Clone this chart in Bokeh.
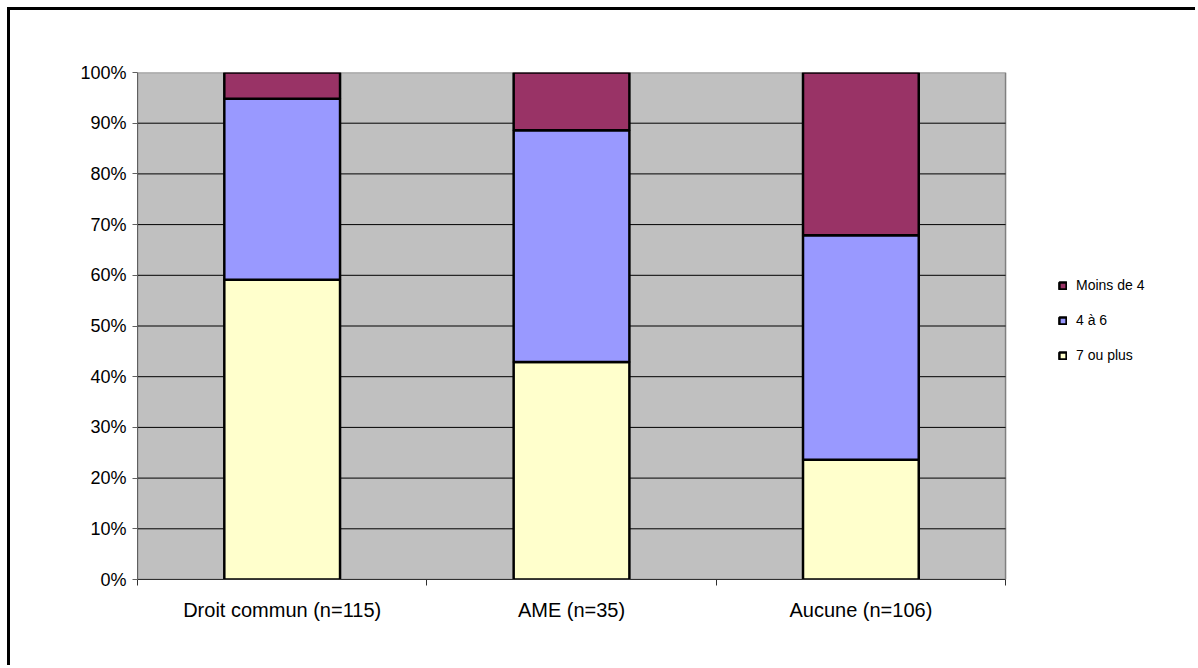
from bokeh.plotting import figure
from bokeh.models import (ColumnDataSource, FixedTicker, PrintfTickFormatter,
                          Legend, LegendItem, Range1d)
from bokeh.embed import file_html
from bokeh.resources import INLINE

# ---- data (percent of each group) ----
categories = ["Droit commun (n=115)", "AME (n=35)", "Aucune (n=106)"]
sept_ou_plus = [59.1, 42.9, 23.6]
quatre_a_six = [35.7, 45.7, 44.3]
moins_de_4 = [5.2, 11.4, 32.1]
series_labels = ["7 ou plus", "4 à 6", "Moins de 4"]
series_colors = ["#FFFFCC", "#9999FF", "#993366"]
y_ticks = list(range(0, 101, 10))

n = len(categories)
xs = [i + 0.5 for i in range(n)]
src = ColumnDataSource(dict(x=xs, sept=sept_ou_plus, quatre=quatre_a_six, moins=moins_de_4))

FONT = "Liberation Sans"

# plot area spans data x 0..n; extra room on the right of the frame holds the legend
p = figure(width=1188, height=658,
           x_range=Range1d(0, 3.653), y_range=Range1d(0, 100),
           output_backend="svg", toolbar_location=None,
           min_border_left=127, min_border_right=4,
           min_border_top=62, min_border_bottom=89)
p.styles = {"border-style": "solid none none solid",
            "border-width": "3px 0px 0px 3px",
            "border-color": "black",
            "margin-top": "7px", "margin-left": "7px"}

p.background_fill_color = "white"
p.border_fill_color = "white"
p.outline_line_color = None
p.xgrid.visible = False
p.ygrid.visible = False

# plot area background + border
p.quad(left=0, right=n, bottom=y_ticks[0], top=y_ticks[-1],
       fill_color="#C0C0C0", line_color="#808080", line_width=1.5)
# horizontal gridlines
p.segment(x0=[0] * (len(y_ticks) - 2), x1=[n] * (len(y_ticks) - 2),
          y0=y_ticks[1:-1], y1=y_ticks[1:-1], line_color="black", line_width=1)

renderers = p.vbar_stack(["sept", "quatre", "moins"], x="x", width=0.4, source=src,
                         fill_color=series_colors, line_color="black", line_width=2.5)

# y axis
ya = p.yaxis[0]
ya.ticker = FixedTicker(ticks=y_ticks)
ya.formatter = PrintfTickFormatter(format="%d%%")
ya.major_label_text_font = FONT
ya.major_label_text_font_size = "18px"
ya.major_label_text_color = "black"
ya.major_tick_out = 5
ya.major_tick_in = 0
ya.major_tick_line_color = "#606060"
ya.minor_tick_line_color = None
ya.axis_line_color = "#606060"
ya.major_label_standoff = 6

# x axis
xa = p.xaxis[0]
xa.bounds = (0, n)
xa.ticker = FixedTicker(ticks=xs, minor_ticks=list(range(n + 1)))
xa.major_label_overrides = {x: c for x, c in zip(xs, categories)}
xa.major_label_text_font = FONT
xa.major_label_text_font_size = "20px"
xa.major_label_text_color = "black"
xa.major_tick_line_color = None
xa.major_tick_out = 0
xa.major_tick_in = 0
xa.minor_tick_out = 6
xa.minor_tick_in = 0
xa.minor_tick_line_color = "#303030"
xa.axis_line_color = "#303030"
xa.major_label_standoff = 13

legend = Legend(
    items=[LegendItem(label=series_labels[i], renderers=[renderers[i]]) for i in (2, 1, 0)],
    location=(921, 214),
    orientation="vertical",
    border_line_alpha=0, background_fill_alpha=0,
    padding=0, margin=0, spacing=15,
    label_height=20, glyph_height=9, glyph_width=9, label_standoff=9,
    label_text_font=FONT, label_text_font_size="14px", label_text_color="black",
)
p.add_layout(legend)

open("out.html", "w").write(file_html(p, INLINE))
